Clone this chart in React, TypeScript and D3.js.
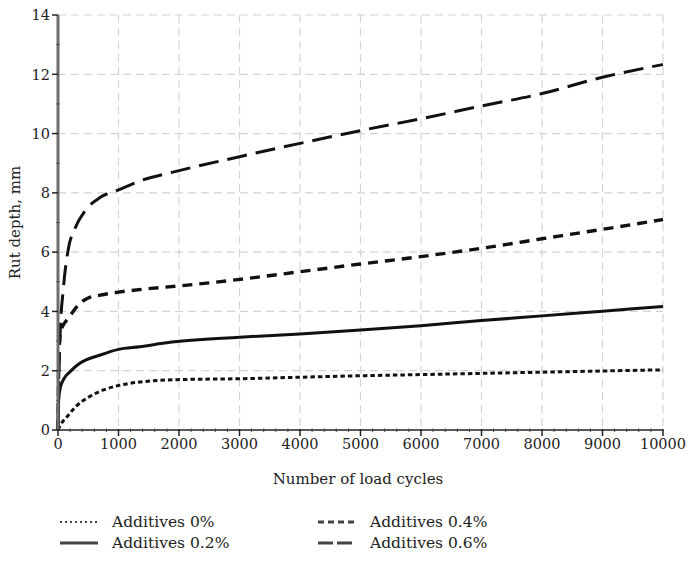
import React from "react";
import * as d3 from "d3";

// Rut depth (mm) against number of load cycles for four additive dosages
const cycles0 = [0, 50, 150, 300, 500, 750, 1000, 1400, 2000, 3000, 4000, 5000, 6000, 7000, 8000, 9000, 10000];
const additives0 = [0, 0.2, 0.45, 0.8, 1.1, 1.35, 1.5, 1.63, 1.7, 1.73, 1.78, 1.83, 1.87, 1.91, 1.95, 1.99, 2.03];

const cycles02 = [0, 5, 30, 90, 200, 360, 700, 1000, 1350, 1850, 3000, 4000, 5000, 6000, 7000, 8000, 9000, 10000];
const additives02 = [0, 0.8, 1.35, 1.7, 1.97, 2.25, 2.53, 2.72, 2.81, 2.96, 3.13, 3.24, 3.37, 3.52, 3.69, 3.85, 4.01, 4.17];

const cycles04 = [0, 15, 40, 200, 350, 500, 700, 1000, 1400, 2000, 3000, 4000, 5000, 6000, 7000, 8000, 9000, 10000];
const additives04 = [0, 2.5, 3.3, 3.85, 4.25, 4.45, 4.55, 4.65, 4.75, 4.86, 5.08, 5.34, 5.6, 5.85, 6.13, 6.45, 6.77, 7.1];

const cycles06 = [0, 30, 90, 170, 280, 450, 700, 1000, 1350, 1900, 3000, 4000, 5000, 6000, 7000, 8000, 9000, 10000];
const additives06 = [0, 3.0, 4.8, 6.1, 6.8, 7.4, 7.85, 8.1, 8.4, 8.7, 9.22, 9.67, 10.1, 10.5, 10.93, 11.35, 11.9, 12.33];

const xTicks = [0, 1000, 2000, 3000, 4000, 5000, 6000, 7000, 8000, 9000, 10000];
const yTicks = [0, 2, 4, 6, 8, 10, 12, 14];

const seriesNames = ["Additives 0%", "Additives 0.2%", "Additives 0.4%", "Additives 0.6%"];

const W = 689;
const H = 569;
const margin = { left: 58, right: 26, top: 15, bottom: 139 };

const serif = "'DejaVu Serif', 'Liberation Serif', serif";
const ink = "#222";

type Series = { name: string; xs: number[]; ys: number[]; dash: string; width: number; legendDash: string; legendWidth: number };

const series: Series[] = [
  { name: seriesNames[0], xs: cycles0, ys: additives0, dash: "4.5,3", width: 3, legendDash: "2,3", legendWidth: 2 },
  { name: seriesNames[1], xs: cycles02, ys: additives02, dash: "", width: 3, legendDash: "", legendWidth: 3 },
  { name: seriesNames[2], xs: cycles04, ys: additives04, dash: "10,7", width: 3.4, legendDash: "6,4", legendWidth: 3 },
  { name: seriesNames[3], xs: cycles06, ys: additives06, dash: "20,9", width: 3, legendDash: "15,4", legendWidth: 3 },
];

export default function App() {
  const x = d3.scaleLinear().domain([0, 10000]).range([margin.left, W - margin.right]);
  const y = d3.scaleLinear().domain([0, 14]).range([H - margin.bottom, margin.top]);
  const x0 = x(0);
  const y0 = y(0);

  const line = d3
    .line<[number, number]>()
    .x((d) => x(d[0]))
    .y((d) => y(d[1]))
    .curve(d3.curveMonotoneX);

  const xMinor = d3.range(0, 10001, 200).filter((v) => v % 1000 !== 0);
  const yMinor = d3.range(1, 14, 2);

  const legendRows = [
    { s: series[0], lx: 60, ty: 527 },
    { s: series[1], lx: 60, ty: 548 },
    { s: series[2], lx: 318, ty: 527 },
    { s: series[3], lx: 318, ty: 548 },
  ];

  return (
    <svg width={W} height={H} style={{ position: "absolute", left: 0, top: 0, background: "#fff" }}>
      {/* grid */}
      <g stroke="#d4d4d4" strokeWidth={1.2} strokeDasharray="8,5" fill="none">
        {xTicks.slice(1).map((t) => (
          <line key={"gx" + t} x1={x(t)} x2={x(t)} y1={y(14)} y2={y0} />
        ))}
        {yTicks.slice(1).map((t) => (
          <line key={"gy" + t} x1={x0} x2={x(10000)} y1={y(t)} y2={y(t)} />
        ))}
      </g>

      {/* data */}
      <g fill="none" stroke="#111" strokeLinecap="butt">
        {series.map((s) => (
          <path
            key={s.name}
            d={line(s.xs.map((v, i) => [v, s.ys[i]] as [number, number])) || ""}
            strokeWidth={s.width}
            strokeDasharray={s.dash || undefined}
          />
        ))}
      </g>

      {/* y axis */}
      <line x1={x0} x2={x0} y1={y(14)} y2={y0} stroke="#6e6e6e" strokeWidth={3} />
      {yTicks.map((t) => (
        <g key={"yt" + t}>
          <line x1={x0 - 6} x2={x0} y1={y(t)} y2={y(t)} stroke={ink} strokeWidth={1.5} />
          <text x={x0 - 8} y={y(t)} dy="0.36em" textAnchor="end" fontFamily={serif} fontSize={14.5} fill={ink}>
            {t}
          </text>
        </g>
      ))}
      {yMinor.map((t) => (
        <line key={"ym" + t} x1={x0 - 2} x2={x0 + 2} y1={y(t)} y2={y(t)} stroke="#555" strokeWidth={1} />
      ))}

      {/* x axis */}
      <line x1={x0} x2={x(10000)} y1={y0} y2={y0} stroke={ink} strokeWidth={1.5} />
      {xTicks.map((t) => (
        <g key={"xt" + t}>
          <line x1={x(t)} x2={x(t)} y1={y0 - 1} y2={y0 + 6} stroke={ink} strokeWidth={1.5} />
          <text x={x(t)} y={y0 + 19} textAnchor="middle" fontFamily={serif} fontSize={14.5} fill={ink}>
            {t}
          </text>
        </g>
      ))}
      {xMinor.map((t) => (
        <line key={"xm" + t} x1={x(t)} x2={x(t)} y1={y0 - 1.5} y2={y0 + 2} stroke="#444" strokeWidth={1} />
      ))}

      {/* axis titles */}
      <text
        transform={`translate(20, ${(y(14) + y0) / 2}) rotate(-90)`}
        textAnchor="middle"
        fontFamily={serif}
        fontSize={15}
        fill={ink}
      >
        Rut depth, mm
      </text>
      <text x={358} y={484} textAnchor="middle" fontFamily={serif} fontSize={15} fill={ink}>
        Number of load cycles
      </text>

      {/* legend */}
      {legendRows.map(({ s, lx, ty }) => (
        <g key={"lg" + s.name}>
          <line
            x1={lx}
            x2={lx + 38}
            y1={ty - 5}
            y2={ty - 5}
            stroke="#444"
            strokeWidth={s.legendWidth}
            strokeDasharray={s.legendDash || undefined}
          />
          <text x={lx + 52} y={ty} fontFamily={serif} fontSize={15.5} fill={ink}>
            {s.name}
          </text>
        </g>
      ))}
    </svg>
  );
}
